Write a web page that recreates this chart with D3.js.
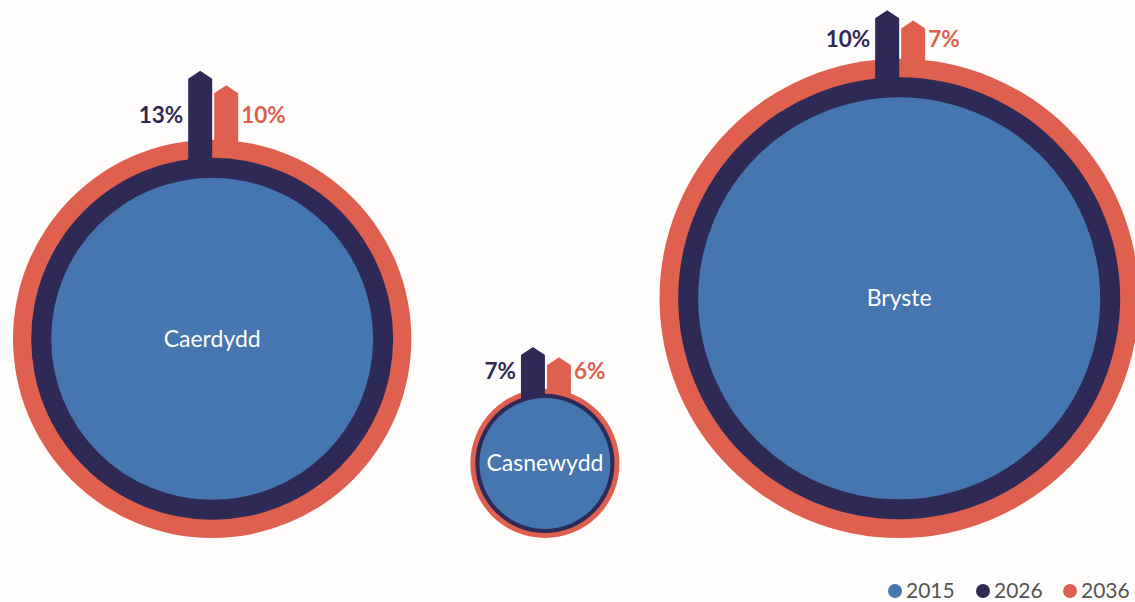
<!DOCTYPE html>
<html>
<head>
<meta charset="utf-8">
<script src="https://cdn.jsdelivr.net/npm/d3@7"></script>
<style>
  html, body { margin: 0; padding: 0; background: #fefdfb; }
  svg { display: block; }
</style>
</head>
<body>
<svg id="chart" width="1135" height="602"></svg>
<script>
// Population (thousands) for each city, by year
const cities = ["Caerdydd", "Casnewydd", "Bryste"];
const pop2015 = [354, 144, 442];
const pop2026 = [398, 153, 486];
const pop2036 = [438, 164, 527];

// Growth labels (%) for the arrows
const growth2026 = [13, 7, 10];
const growth2036 = [10, 6, 7];

// Legend
const years = ["2015", "2026", "2036"];
const colors = ["#4576b0", "#2f2a55", "#e0604f"];

const W = 1135, H = 602;
const svg = d3.select("#chart");

// Radius is linear in population
const rScale = d3.scaleLinear().domain([0, 442]).range([0, 201]);
// Arrow lengths above their ring, linear in growth
const arrow26 = d3.scaleLinear().domain([0, 10]).range([0, 67]);
const arrow36 = d3.scaleLinear().domain([0, 10]).range([0, 55]);

// Layout: circles sit on a common baseline, packed left to right
const baseY = 538;
const leftX = 13;
const gaps = [59, 40];
const layout = [];
let x = leftX;
cities.forEach((c, i) => {
  const R = rScale(pop2036[i]);
  const cx = x + R;
  layout.push({ cx, cy: baseY - R });
  x = cx + R + (gaps[i] || 0);
});

const arrowW = 24, headH = 8;
function arrowPath(x0, x1, tipY, bottomY) {
  const xm = (x0 + x1) / 2;
  return `M${x0},${bottomY} L${x0},${tipY + headH} L${xm},${tipY} L${x1},${tipY + headH} L${x1},${bottomY} Z`;
}

const g = svg.append("g");

cities.forEach((name, i) => {
  const { cx, cy } = layout[i];
  const r15 = rScale(pop2015[i]);
  const r26 = rScale(pop2026[i]);
  const r36 = rScale(pop2036[i]);
  const cg = g.append("g");

  // 2036 ring and arrow
  const redX0 = cx + 2, redX1 = cx + 2 + arrowW;
  const xr = (redX0 + redX1) / 2 - cx;
  const redTop = cy - Math.sqrt(r36 * r36 - xr * xr);
  const redTip = redTop - arrow36(growth2036[i]);
  cg.append("circle").attr("cx", cx).attr("cy", cy).attr("r", r36).attr("fill", colors[2]);
  cg.append("path").attr("d", arrowPath(redX0, redX1, redTip, cy)).attr("fill", colors[2]);

  // 2026 ring and arrow
  const navyTip = cy - r26 - arrow26(growth2026[i]);
  cg.append("circle").attr("cx", cx).attr("cy", cy).attr("r", r26).attr("fill", colors[1]);
  cg.append("path").attr("d", arrowPath(cx - arrowW, cx, navyTip, cy)).attr("fill", colors[1]);

  // 2015 core
  cg.append("circle").attr("cx", cx).attr("cy", cy).attr("r", r15).attr("fill", colors[0]);

  // City name
  cg.append("text")
    .attr("x", cx).attr("y", cy + 8)
    .attr("text-anchor", "middle")
    .attr("font-family", "Lato, sans-serif")
    .attr("font-size", 23)
    .attr("fill", "#ffffff")
    .text(name);

  // Growth labels
  const labelY = redTip + 0.7 * (cy - r36 - redTip);
  cg.append("text")
    .attr("x", cx - 29).attr("y", labelY)
    .attr("text-anchor", "end")
    .attr("font-family", "Lato, sans-serif")
    .attr("font-weight", 700)
    .attr("font-size", 22.5)
    .attr("fill", colors[1])
    .text(growth2026[i] + "%");
  cg.append("text")
    .attr("x", cx + 29).attr("y", labelY)
    .attr("text-anchor", "start")
    .attr("font-family", "Lato, sans-serif")
    .attr("font-weight", 700)
    .attr("font-size", 22.5)
    .attr("fill", colors[2])
    .text(growth2036[i] + "%");
});

// Legend, bottom right
const legend = svg.append("g");
const legendX = [895, 983, 1070];
years.forEach((y, i) => {
  legend.append("circle").attr("cx", legendX[i]).attr("cy", 591).attr("r", 7).attr("fill", colors[i]);
  legend.append("text")
    .attr("x", legendX[i] + 11).attr("y", 598)
    .attr("font-family", "Lato, sans-serif")
    .attr("font-size", 21)
    .attr("fill", "#555555")
    .text(y);
});
</script>
</body>
</html>
